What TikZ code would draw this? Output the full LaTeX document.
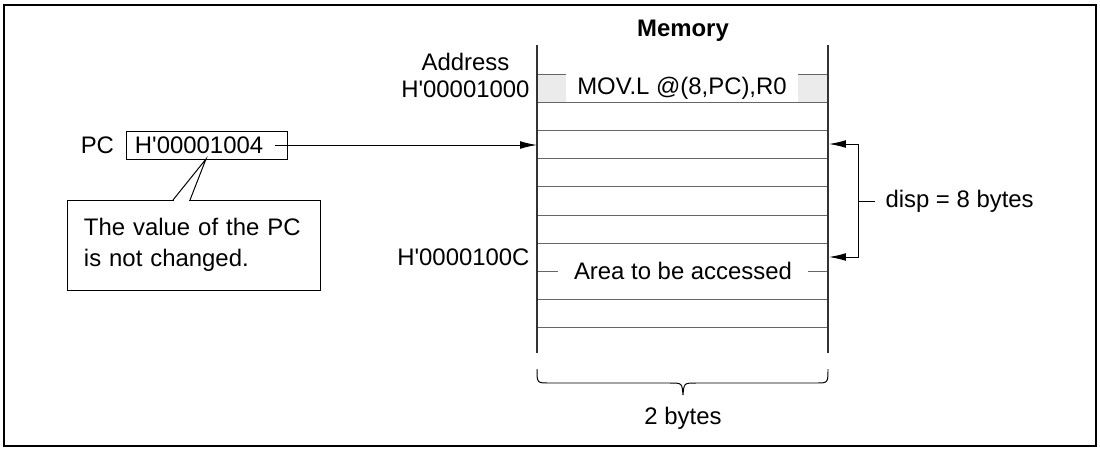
\documentclass[tikz,border=0pt]{standalone}
\usepackage{fontspec}
\setmainfont{Liberation Sans}
\usetikzlibrary{positioning,arrows.meta}

\begin{document}
\begin{tikzpicture}[x=0.025cm, y=-0.025cm, >={Latex[length=12pt,width=5.5pt]}, line width=0.7pt,
  every node/.style={font=\fontsize{17}{22}\selectfont},
  rowline/.style={draw=black!60, line width=0.7pt},
  memwall/.style={draw=black!80, line width=1.1pt},
  addr/.style={inner sep=0pt, anchor=east},
  cell/.style={fill=white, inner sep=0pt, minimum height=0.68cm}]

\useasboundingbox (0,0) rectangle (1100,449);
\draw[line width=1.6pt] (4,5) rectangle (1096,446);

% memory column
\fill[black!8] (537,74) rectangle (828,102.2);
\foreach \k in {0,...,9}
  \draw[rowline] (537,74+\k*28.2) -- (828,74+\k*28.2);
\draw[memwall] (537,45) -- (537,353);
\draw[memwall] (828,45) -- (828,353);

\node[font=\fontsize{17}{20}\selectfont\bfseries] (memory) at (683,31) {Memory};
\node[cell, minimum width=5.8cm] (instr) at (682,88) {MOV.L @(8,PC),R0};
\node[cell, minimum width=6.25cm, minimum height=0.5cm] (area) at (683,271.4) {Area to be accessed};

% addresses
\node[addr] (addr1) at (530,89) {H\textquotesingle00001000};
\node[inner sep=0pt] (addrhead) at (addr1.center |- 0,62) {Address};
\node[addr] (addr2) at (530,257) {H\textquotesingle0000100C};

% PC register
\node[draw, text width=3.6cm, inner xsep=0.2cm, minimum height=0.7cm, align=left] (pcbox) at (207,145) {H\textquotesingle00001004};
\node[left=0.3cm of pcbox, inner sep=0pt] (pclbl) {PC};
\coordinate (pcout) at (275,145);
\coordinate (pcin) at (537,145);
\draw[->] (pcout) -- (pcin);

% callout
\node[draw, text width=5.5cm, inner xsep=0.4cm, minimum height=2.25cm, align=left] (note) at (194,245) {The value of the PC\\is not changed.};
\coordinate (tip) at (206,159);
\fill[white] (174,202) rectangle (189,198);
\draw (173,200) -- (tip) -- (190,200);

% displacement
\coordinate (disptop) at (829,144);
\coordinate (dispbot) at (829,257);
\draw[<->] (disptop) -- ++(29,0) |- (dispbot);
\draw (858,201) -- ++(17,0) node[right, inner sep=0.25cm] (disp) {disp = 8 bytes};

% width brace
\coordinate (brl) at (537,369);
\coordinate (brr) at (828,369);
\coordinate (brtip) at (683,395);
\draw (brl) .. controls (537,383) .. (549,383) -- (670,383) .. controls (682,383) .. (brtip)
  .. controls (684,383) .. (696,383) -- (816,383) .. controls (828,383) .. (brr);
\node[below=0.3cm of brtip, inner sep=0pt] (width) {2 bytes};

\end{tikzpicture}
\end{document}
